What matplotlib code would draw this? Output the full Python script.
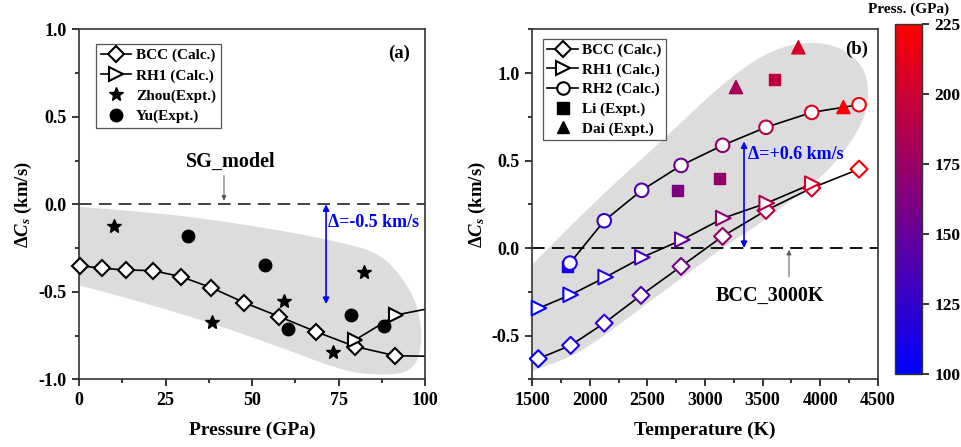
import numpy as np
import matplotlib
matplotlib.use("Agg")
import matplotlib.pyplot as plt
from matplotlib.colors import LinearSegmentedColormap, Normalize
from matplotlib.cm import ScalarMappable
from matplotlib.lines import Line2D
from matplotlib.ticker import MultipleLocator

plt.rcParams['font.family'] = ['Liberation Serif', 'DejaVu Serif']
plt.rcParams['font.weight'] = 'bold'
plt.rcParams['mathtext.fontset'] = 'custom'
plt.rcParams['mathtext.rm'] = 'Liberation Serif:bold'
plt.rcParams['mathtext.it'] = 'Liberation Serif:bold:italic'
plt.rcParams['mathtext.bf'] = 'Liberation Serif:bold'

# ---------------- Panel (a) data ----------------
bcc_a_p = [0.3, 6.6, 13.6, 21.3, 29.4, 38.2, 47.8, 57.9, 68.5, 79.8, 91.4]
bcc_a_v = [-0.35, -0.366, -0.375, -0.379, -0.413, -0.476, -0.562, -0.642, -0.728, -0.813, -0.865]
bcc_a_line_p = [0.0, 0.3, 6.6, 13.6, 21.3, 29.4, 38.2, 47.8, 57.9, 68.5, 79.8, 91.4, 100]
bcc_a_line_v = [-0.33, -0.35, -0.366, -0.375, -0.379, -0.413, -0.476, -0.562, -0.642, -0.728, -0.813, -0.865, -0.868]
rh1_a_p = [79.8, 91.7]
rh1_a_v = [-0.775, -0.632]
rh1_a_line_p = [79.8, 91.7, 100]
rh1_a_line_v = [-0.775, -0.632, -0.60]
zhou_p = [10.1, 38.4, 59.3, 73.4, 82.3]
zhou_v = [-0.122, -0.674, -0.552, -0.846, -0.385]
yu_p = [31.6, 53.8, 60.5, 78.5, 88.2]
yu_v = [-0.179, -0.347, -0.712, -0.634, -0.697]
band_a_p = [-5, 0, 29, 58, 77, 86.7, 92.5, 97.3, 99.2, 98.3, 94.4, 86.7, 77, 57.8, 38.5, 19.3, 0, -5]
band_a_v = [-0.01, -0.014, -0.061, -0.147, -0.223, -0.28, -0.394, -0.547, -0.718, -0.89,
            -0.966, -0.975, -0.957, -0.814, -0.68, -0.566, -0.461, -0.45]

# ---------------- Panel (b) data ----------------
bcc_b_t = [1552, 1833, 2125, 2444, 2792, 3153, 3530, 3927, 4338]
bcc_b_v = [-0.632, -0.556, -0.429, -0.270, -0.105, 0.067, 0.215, 0.343, 0.451]
bcc_b_p = [103, 112, 125, 140, 158, 172, 190, 205, 222]
rh1_b_t = [1558, 1833, 2137, 2456, 2803, 3159, 3536, 3932]
rh1_b_v = [-0.343, -0.267, -0.166, -0.053, 0.048, 0.171, 0.257, 0.368]
rh1_b_p = [100, 108, 120, 135, 150, 168, 185, 205]
rh2_b_t = [1827, 2125, 2450, 2792, 3153, 3530, 3927, 4338]
rh2_b_v = [-0.086, 0.156, 0.330, 0.472, 0.587, 0.690, 0.775, 0.819]
rh2_b_p = [113, 125, 140, 155, 172, 188, 208, 222]
li_t = [1804, 2760, 3124, 3602]
li_v = [-0.105, 0.330, 0.396, 0.962]
li_p = [110, 162, 172, 196]
dai_t = [3269, 3811, 4202]
dai_v = [0.920, 1.147, 0.806]
dai_p = [182, 205, 222]
band_b_t = [1400, 2059, 2636, 3217, 3651, 4085, 4375, 4433, 4346, 4085, 3796, 3500, 3150,
            2800, 2450, 2150, 1850, 1500, 1400]
band_b_v = [-0.16, 0.276, 0.619, 0.98, 1.16, 1.18, 1.057, 0.866, 0.676, 0.447, 0.295, 0.15,
            0.0, -0.17, -0.34, -0.49, -0.62, -0.70, -0.74]

cb_ticks = [100, 125, 150, 175, 200, 225]


def chaikin(x, y, n=3):
    pts = np.column_stack([x, y]).astype(float)
    for _ in range(n):
        new = [pts[0]]
        for i in range(len(pts) - 1):
            p, q = pts[i], pts[i + 1]
            new.append(0.75 * p + 0.25 * q)
            new.append(0.25 * p + 0.75 * q)
        new.append(pts[-1])
        pts = np.array(new)
    return pts[:, 0], pts[:, 1]


cmap = LinearSegmentedColormap.from_list('br', ['#0000ff', '#ff0000'])
norm = Normalize(100, 225)

fig = plt.figure(figsize=(9.61, 4.47), dpi=100)
ax1 = fig.add_axes([0.0822, 0.1514, 0.3601, 0.7831])
ax2 = fig.add_axes([0.5539, 0.1514, 0.3594, 0.7831])
cax = fig.add_axes([0.9313, 0.1626, 0.0285, 0.783])

gray = '#dcdcdc'


def style_axis(ax):
    for s in ax.spines.values():
        s.set_linewidth(1.2)
        s.set_color('#333333')
    ax.tick_params(which='both', direction='out', top=False, right=False, labelsize=13, width=1.1)
    ax.tick_params(which='major', length=5, pad=4)
    ax.tick_params(which='minor', length=3)
    for lab in ax.get_xticklabels() + ax.get_yticklabels():
        lab.set_fontweight('bold')


# ---------------- Panel (a) ----------------
bx, by = chaikin(band_a_p, band_a_v, 4)
ax1.fill(bx, by, color=gray, lw=0, zorder=0)
ax1.axhline(0, color='#333333', lw=1.3, ls=(0, (7, 4)), zorder=1)
ax1.plot(bcc_a_line_p, bcc_a_line_v, color='black', lw=1.2, zorder=2)
ax1.plot(bcc_a_p, bcc_a_v, ls='none', marker='D', ms=8, mfc='white', mec='black', mew=1.5,
         zorder=3, clip_on=False)
ax1.plot(rh1_a_line_p, rh1_a_line_v, color='black', lw=1.2, zorder=2)
ax1.plot(rh1_a_p, rh1_a_v, ls='none', marker='>', ms=10, mfc='white', mec='black', mew=1.5, zorder=3)
ax1.plot(zhou_p, zhou_v, ls='none', marker='*', ms=10, color='black', zorder=3)
ax1.plot(yu_p, yu_v, ls='none', marker='o', ms=9, color='black', zorder=3)
ax1.set_xlim(0, 100)
ax1.set_ylim(-1.0, 1.0)
ax1.xaxis.set_minor_locator(MultipleLocator(12.5))
ax1.yaxis.set_minor_locator(MultipleLocator(0.25))
ax1.set_xticks([0, 25, 50, 75, 100], ['0', '25', '50', '75', '100'])
ax1.set_yticks([-1.0, -0.5, 0.0, 0.5, 1.0], ['-1.0', '-0.5', '0.0', '0.5', '1.0'])
style_axis(ax1)
ax1.set_xlabel('Pressure (GPa)', fontsize=14, fontweight='bold', labelpad=9)
ax1.set_ylabel(r'$\Delta C_s$ (km/s)', fontsize=13.5, fontweight='bold', labelpad=3)
ax1.text(92.5, 0.86, '(a)', fontsize=13.5, fontweight='bold', ha='center', va='center')
ax1.text(43.9, 0.245, 'SG_model', fontsize=14.5, fontweight='bold', ha='center', va='center')
ax1.annotate('', xy=(41.9, 0.005), xytext=(41.9, 0.18),
             arrowprops=dict(arrowstyle='-|>', color='#555555', lw=0.7, mutation_scale=7))
ax1.annotate('', xy=(71.4, 0.0), xytext=(71.4, -0.57),
             arrowprops=dict(arrowstyle='<|-|>', color='blue', lw=1.2, mutation_scale=9,
                             shrinkA=0, shrinkB=0))
ax1.text(72.0, -0.105, 'Δ=-0.5 km/s', color='blue', fontsize=13, fontweight='bold',
         ha='left', va='center')
h_a = [
    Line2D([], [], color='black', lw=1.2, marker='D', ms=8, mfc='white', mec='black', mew=1.5),
    Line2D([], [], color='black', lw=1.2, marker='>', ms=10, mfc='white', mec='black', mew=1.5),
    Line2D([], [], ls='none', marker='*', ms=10, color='black'),
    Line2D([], [], ls='none', marker='o', ms=9, color='black'),
]
leg = ax1.legend(h_a, ['BCC (Calc.)', 'RH1 (Calc.)', 'Zhou(Expt.)', 'Yu(Expt.)'],
                 loc='upper left', bbox_to_anchor=(0.028, 0.98), fancybox=False,
                 edgecolor='#555555', framealpha=1, handlelength=2.0, handletextpad=0.3,
                 borderpad=0.3, labelspacing=0.42, prop=dict(size=11, weight='bold'))
leg.get_frame().set_linewidth(0.9)

# ---------------- Panel (b) ----------------
bx, by = chaikin(band_b_t, band_b_v, 4)
ax2.fill(bx, by, color=gray, lw=0, zorder=0)
ax2.axhline(0, color='black', lw=1.3, ls=(0, (7, 4)), zorder=1)
ax2.plot(bcc_b_t, bcc_b_v, color='black', lw=1.2, zorder=2)
ax2.scatter(bcc_b_t, bcc_b_v, marker='D', s=75, facecolors='white',
            edgecolors=cmap(norm(bcc_b_p)), linewidths=1.5, zorder=3, clip_on=False)
ax2.plot(rh1_b_t, rh1_b_v, color='black', lw=1.2, zorder=2)
ax2.scatter(rh1_b_t, rh1_b_v, marker='>', s=110, facecolors='white',
            edgecolors=cmap(norm(rh1_b_p)), linewidths=1.5, zorder=3, clip_on=False)
ax2.plot(rh2_b_t, rh2_b_v, color='black', lw=1.2, zorder=2)
ax2.scatter(li_t, li_v, marker='s', s=60, c=cmap(norm(li_p)), zorder=3)
ax2.scatter(rh2_b_t, rh2_b_v, marker='o', s=95, facecolors='white',
            edgecolors=cmap(norm(rh2_b_p)), linewidths=1.5, zorder=4)
ax2.scatter(dai_t, dai_v, marker='^', s=90, c=cmap(norm(dai_p)), zorder=3)
ax2.set_xlim(1500, 4500)
ax2.set_ylim(-0.75, 1.25)
ax2.xaxis.set_major_locator(MultipleLocator(500))
ax2.xaxis.set_minor_locator(MultipleLocator(250))
ax2.set_yticks([-0.5, 0.0, 0.5, 1.0], ['-0.5', '0.0', '0.5', '1.0'])
ax2.yaxis.set_minor_locator(MultipleLocator(0.25))
style_axis(ax2)
ax2.set_xlabel('Temperature (K)', fontsize=14, fontweight='bold', labelpad=9)
ax2.set_ylabel(r'$\Delta C_s$ (km/s)', fontsize=13.5, fontweight='bold', labelpad=3)
ax2.text(4317, 1.133, '(b)', fontsize=13.5, fontweight='bold', ha='center', va='center')
ax2.text(3565, -0.276, 'BCC_3000K', fontsize=14.5, fontweight='bold', ha='center', va='center')
ax2.annotate('', xy=(3730, 0.005), xytext=(3730, -0.18),
             arrowprops=dict(arrowstyle='-|>', color='#555555', lw=0.7, mutation_scale=7))
ax2.annotate('', xy=(3339, 0.61), xytext=(3339, 0.0),
             arrowprops=dict(arrowstyle='<|-|>', color='blue', lw=1.2, mutation_scale=9,
                             shrinkA=0, shrinkB=0))
ax2.text(3370, 0.533, 'Δ=+0.6 km/s', color='blue', fontsize=13, fontweight='bold',
         ha='left', va='center')
h_b = [
    Line2D([], [], color='black', lw=1.2, marker='D', ms=8, mfc='white', mec='black', mew=1.5),
    Line2D([], [], color='black', lw=1.2, marker='>', ms=10, mfc='white', mec='black', mew=1.5),
    Line2D([], [], color='black', lw=1.2, marker='o', ms=9, mfc='white', mec='black', mew=1.5),
    Line2D([], [], ls='none', marker='s', ms=8, color='black'),
    Line2D([], [], ls='none', marker='^', ms=9, color='black'),
]
leg2 = ax2.legend(h_b, ['BCC (Calc.)', 'RH1 (Calc.)', 'RH2 (Calc.)', 'Li (Expt.)', 'Dai (Expt.)'],
                  loc='upper left', bbox_to_anchor=(0.008, 0.995), fancybox=False,
                  edgecolor='#555555', framealpha=1, handlelength=2.0, handletextpad=0.3,
                  borderpad=0.3, labelspacing=0.38, prop=dict(size=11, weight='bold'))
leg2.get_frame().set_linewidth(0.9)

# ---------------- Colorbar ----------------
sm = ScalarMappable(norm=norm, cmap=cmap)
cb = fig.colorbar(sm, cax=cax, ticks=cb_ticks)
cb.outline.set_linewidth(1.0)
cb.outline.set_edgecolor('#333333')
cax.tick_params(direction='out', length=5, width=1.1, labelsize=12.5)
for lab in cax.get_yticklabels():
    lab.set_fontweight('bold')
cax.set_title('Press. (GPa)', fontsize=11, fontweight='bold', pad=8)

fig.savefig('out.png', dpi=100)
